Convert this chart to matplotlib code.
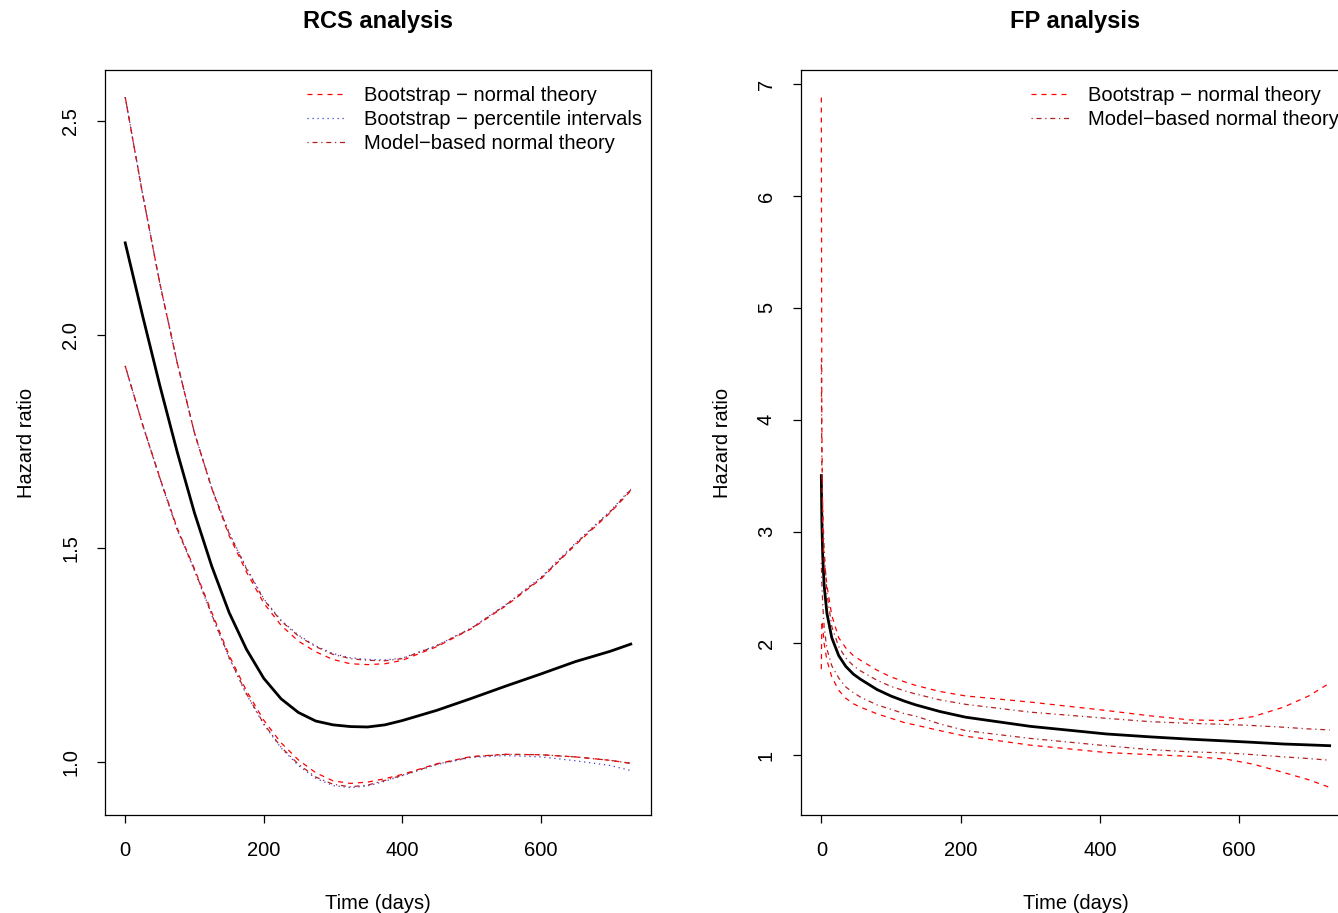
import numpy as np
import matplotlib
matplotlib.use("Agg")
import matplotlib.pyplot as plt

plt.rcParams['font.family'] = ['Liberation Sans', 'DejaVu Sans']

# ---- RCS analysis (left panel) ----
rcs_t = [0, 25, 50, 75, 100, 125, 150, 175, 200, 225, 250, 275, 300, 325,
         350, 375, 400, 450, 500, 550, 600, 650, 700, 730]
rcs_hr = [2.215, 2.045, 1.881, 1.726, 1.583, 1.458, 1.350, 1.264, 1.196,
          1.148, 1.116, 1.096, 1.087, 1.083, 1.082, 1.087, 1.097, 1.121,
          1.149, 1.178, 1.206, 1.235, 1.259, 1.276]
# bootstrap - normal theory
rcs_bn_up = [2.556, 2.33, 2.12, 1.935, 1.77, 1.64, 1.53, 1.445, 1.372, 1.32,
             1.283, 1.258, 1.24, 1.23, 1.228, 1.23, 1.238, 1.27, 1.312,
             1.366, 1.428, 1.508, 1.583, 1.635]
rcs_bn_lo = [1.927, 1.79, 1.665, 1.548, 1.452, 1.35, 1.25, 1.167, 1.098,
             1.045, 1.005, 0.975, 0.956, 0.950, 0.953, 0.961, 0.971, 0.996,
             1.013, 1.018, 1.017, 1.012, 1.004, 0.997]
# bootstrap - percentile intervals
rcs_bp_up = [2.556, 2.33, 2.12, 1.935, 1.77, 1.642, 1.537, 1.455, 1.382,
             1.332, 1.297, 1.272, 1.254, 1.244, 1.24, 1.239, 1.243, 1.273,
             1.314, 1.369, 1.432, 1.512, 1.587, 1.639]
rcs_bp_lo = [1.927, 1.79, 1.663, 1.543, 1.448, 1.343, 1.243, 1.158, 1.088,
             1.033, 0.992, 0.962, 0.945, 0.940, 0.944, 0.955, 0.968, 0.994,
             1.011, 1.015, 1.012, 1.003, 0.992, 0.980]
# model-based normal theory
rcs_mb_up = [2.556, 2.33, 2.12, 1.935, 1.77, 1.64, 1.535, 1.452, 1.38, 1.33,
             1.295, 1.27, 1.252, 1.242, 1.238, 1.237, 1.242, 1.272, 1.313,
             1.368, 1.43, 1.51, 1.585, 1.637]
rcs_mb_lo = [1.927, 1.79, 1.665, 1.545, 1.45, 1.345, 1.245, 1.16, 1.09,
             1.035, 0.995, 0.965, 0.948, 0.942, 0.946, 0.957, 0.969, 0.995,
             1.012, 1.018, 1.017, 1.012, 1.004, 0.997]

# ---- FP analysis (right panel) ----
fp_t = [0, 0.7, 2, 4, 8, 15, 25, 35, 46, 56, 80, 100, 120, 135, 170, 207,
        300, 409, 472, 530, 582, 620, 664, 700, 730]
fp_hr = [3.50, 3.1, 2.78, 2.52, 2.27, 2.05, 1.89, 1.795, 1.725, 1.68, 1.587,
         1.529, 1.482, 1.451, 1.391, 1.34, 1.258, 1.19, 1.164, 1.143, 1.127,
         1.115, 1.10, 1.092, 1.085]
fp_bn_up = [6.88, 4.0, 3.0, 2.75, 2.52, 2.25, 2.05, 1.96, 1.89, 1.85, 1.76,
            1.70, 1.655, 1.625, 1.57, 1.53, 1.475, 1.40, 1.352, 1.315, 1.31,
            1.345, 1.43, 1.53, 1.645]
fp_bn_lo = [1.77, 2.2, 2.15, 2.0, 1.85, 1.70, 1.58, 1.51, 1.46, 1.43, 1.37,
            1.33, 1.29, 1.27, 1.22, 1.17, 1.09, 1.024, 1.005, 0.99, 0.964,
            0.92, 0.845, 0.78, 0.712]
fp_mb_up = [4.54, 3.6, 3.2, 2.85, 2.45, 2.15, 1.97, 1.87, 1.80, 1.755, 1.67,
            1.615, 1.575, 1.548, 1.495, 1.455, 1.385, 1.33, 1.30, 1.285,
            1.275, 1.265, 1.25, 1.235, 1.226]
fp_mb_lo = [2.72, 2.55, 2.35, 2.15, 1.95, 1.80, 1.69, 1.61, 1.56, 1.52, 1.45,
            1.41, 1.37, 1.35, 1.28, 1.22, 1.15, 1.085, 1.05, 1.03, 1.02,
            1.005, 0.985, 0.97, 0.955]

red = "#ff0000"
blue = "#3a3ad0"
dark = "#b22222"
dash = (0, (4, 4))
dot = (0, (1, 3))
dashdot = (0, (1, 3, 4, 3))

fig = plt.figure(figsize=(13.38, 9.13), dpi=100)
ax1 = fig.add_axes([105 / 1338, 1 - 815 / 913, 546 / 1338, 745 / 913])
ax2 = fig.add_axes([801 / 1338, 1 - 815 / 913, 549 / 1338, 745 / 913])

# left
ax1.plot(rcs_t, rcs_hr, color="black", lw=2)
ax1.plot(rcs_t, rcs_bn_up, color=red, lw=0.9, ls=dash, label="Bootstrap \u2212 normal theory")
ax1.plot(rcs_t, rcs_bn_lo, color=red, lw=0.9, ls=dash)
ax1.plot(rcs_t, rcs_bp_up, color=blue, lw=0.9, ls=dot, label="Bootstrap \u2212 percentile intervals")
ax1.plot(rcs_t, rcs_bp_lo, color=blue, lw=0.9, ls=dot)
ax1.plot(rcs_t, rcs_mb_up, color=dark, lw=0.9, ls=dashdot, label="Model\u2212based normal theory")
ax1.plot(rcs_t, rcs_mb_lo, color=dark, lw=0.9, ls=dashdot)

# right
ax2.plot(fp_t, fp_hr, color="black", lw=2)
ax2.plot(fp_t, fp_bn_up, color=red, lw=0.9, ls=dash, label="Bootstrap \u2212 normal theory")
ax2.plot(fp_t, fp_bn_lo, color=red, lw=0.9, ls=dash)
ax2.plot(fp_t, fp_mb_up, color=dark, lw=0.9, ls=dashdot, label="Model\u2212based normal theory")
ax2.plot(fp_t, fp_mb_lo, color=dark, lw=0.9, ls=dashdot)


def r_style(ax, lo, hi, yticks, title, leg_x):
    span = hi - lo
    ax.set_xlim(-29.2, 759.2)
    ax.set_ylim(lo - 0.04 * span, hi + 0.04 * span)
    ax.set_xticks([0, 200, 400, 600])
    ax.set_yticks(yticks)
    ax.tick_params(direction="out", length=6, width=0.9, labelsize=14.5, pad=13)
    ax.tick_params(axis="y", labelrotation=90, pad=12)
    for lbl in ax.get_yticklabels():
        lbl.set_va("center")
    for s in ax.spines.values():
        s.set_linewidth(0.9)
    ax.set_xlabel("Time (days)", fontsize=14.5, labelpad=24)
    ax.set_ylabel("Hazard ratio", fontsize=14.5, labelpad=18)
    ax.set_title(title, fontsize=17, fontweight="bold", pad=30)
    ax.legend(loc="upper left", bbox_to_anchor=(leg_x, 0.978), frameon=False,
              fontsize=14.5, handlelength=2.0, handletextpad=0.85,
              labelspacing=0.25, borderpad=0, borderaxespad=0)


r_style(ax1, 0.9406, 2.555, [1.0, 1.5, 2.0, 2.5], "RCS analysis", 0.37)
r_style(ax2, 0.712, 6.88, [1, 2, 3, 4, 5, 6, 7], "FP analysis", 0.419)
ax1.set_yticklabels(["1.0", "1.5", "2.0", "2.5"])

fig.savefig("out.png", dpi=100)
